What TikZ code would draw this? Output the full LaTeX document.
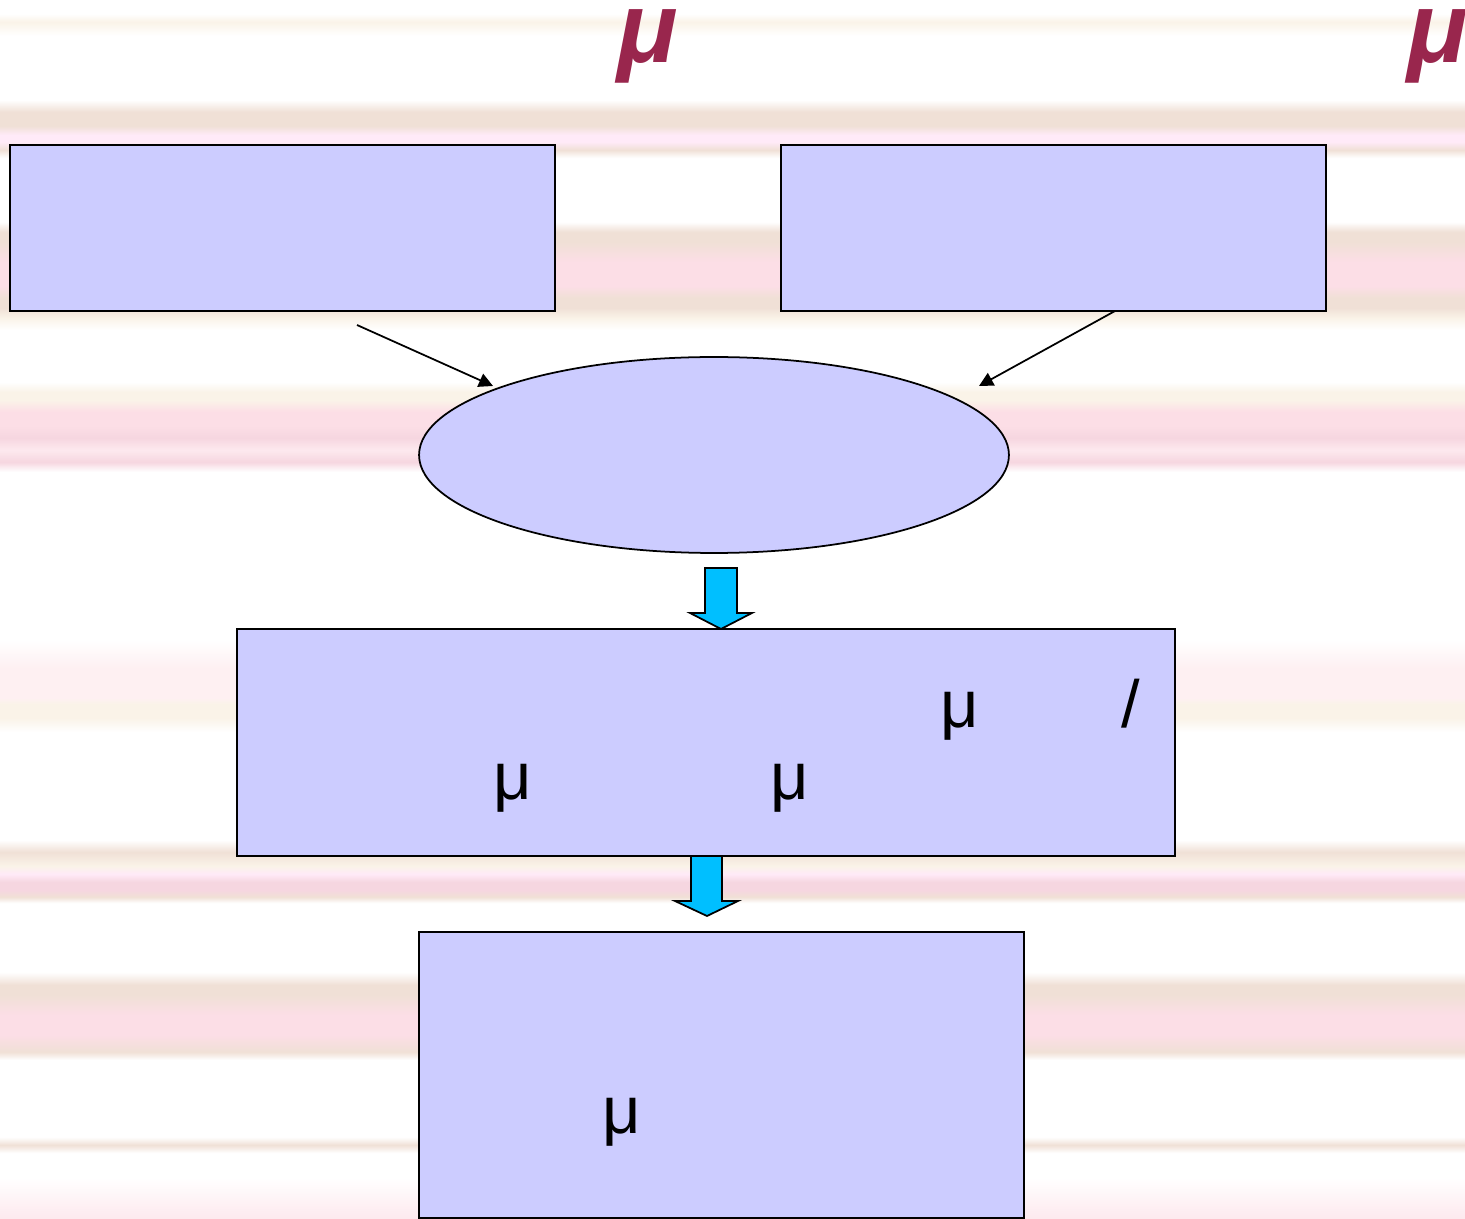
\documentclass[tikz,border=0pt]{standalone}
\usepackage{fontspec}
\setmainfont{Liberation Sans}
\usetikzlibrary{shapes.geometric,arrows.meta}
\definecolor{boxfill}{RGB}{204,204,255}
\definecolor{titlered}{RGB}{153,38,77}
\definecolor{flowblue}{RGB}{0,191,255}
% stripe colours of the backdrop
\definecolor{sWhite}{RGB}{255,255,255}
\definecolor{sTan}{RGB}{240,224,214}
\definecolor{sPink}{RGB}{252,222,230}
\definecolor{sPinkL}{RGB}{254,240,242}
\definecolor{sPinkM}{RGB}{253,233,238}
\definecolor{sLav}{RGB}{255,234,248}
\definecolor{sCream}{RGB}{250,243,232}
\definecolor{sRose}{RGB}{246,214,224}
% striped backdrop, bottom (25bp) to top (75bp)
\pgfdeclareverticalshading{stripes}{100bp}{%
  color(0bp)=(sPinkM); color(25bp)=(sPinkM);
  color(26.682bp)=(sWhite); color(27.707bp)=(sWhite);
  color(28.035bp)=(sTan); color(28.363bp)=(sWhite);
  color(31.522bp)=(sWhite); color(31.850bp)=(sTan);
  color(32.547bp)=(sPink); color(33.367bp)=(sPink);
  color(34.188bp)=(sTan); color(34.598bp)=(sTan);
  color(35.131bp)=(sWhite); color(37.961bp)=(sWhite);
  color(38.207bp)=(sTan); color(38.495bp)=(sRose);
  color(38.823bp)=(sRose); color(39.151bp)=(sLav);
  color(39.479bp)=(sCream); color(40.053bp)=(sTan);
  color(40.545bp)=(sWhite); color(44.975bp)=(sWhite);
  color(45.550bp)=(sCream); color(46.124bp)=(sCream);
  color(46.370bp)=(sPinkL); color(47.600bp)=(sPinkL);
  color(48.749bp)=(sWhite); color(55.640bp)=(sWhite);
  color(56.050bp)=(sRose); color(56.542bp)=(sPinkM);
  color(57.034bp)=(sRose); color(57.527bp)=(sPink);
  color(58.101bp)=(sPink); color(58.593bp)=(sCream);
  color(58.921bp)=(sCream); color(59.331bp)=(sWhite);
  color(61.464bp)=(sWhite); color(61.956bp)=(sCream);
  color(62.367bp)=(sTan); color(62.777bp)=(sTan);
  color(63.269bp)=(sPink); color(64.253bp)=(sPink);
  color(65.074bp)=(sTan); color(65.484bp)=(sTan);
  color(65.894bp)=(sWhite); color(68.519bp)=(sWhite);
  color(68.847bp)=(sTan); color(69.175bp)=(sLav);
  color(69.462bp)=(sLav); color(69.832bp)=(sTan);
  color(70.406bp)=(sTan); color(70.898bp)=(sWhite);
  color(73.523bp)=(sWhite); color(74.098bp)=(sCream);
  color(74.426bp)=(sWhite); color(75bp)=(sWhite); color(100bp)=(sWhite)}
\tikzset{
  box/.style={draw=black, fill=boxfill, line width=1pt, rectangle, inner sep=0pt, outer sep=0pt},
  oval/.style={draw=black, fill=boxfill, line width=1pt, ellipse, inner sep=0pt, outer sep=0pt},
  thinarrow/.style={draw=black, line width=1pt, -{Triangle[length=8pt,width=8pt]}},
  blockarrow/.style={draw=black, fill=flowblue, line width=1pt},
  bodytext/.style={anchor=base, inner sep=0pt, font=\fontsize{38}{44}\selectfont},
  titletext/.style={anchor=base, inner sep=0pt, text=titlered, font=\fontsize{57}{64}\selectfont\bfseries\itshape},
}
\begin{document}
\begin{tikzpicture}[x=0.02cm, y=-0.02cm]
  \useasboundingbox (0,0) rectangle (1465,1219);
  \clip (0,0) rectangle (1465,1219);
  \shade[shading=stripes] (0,0) rectangle (1465,1219);

  % headings
  \node[titletext] (t1) at (648,63) {μ};
  \node[titletext] (t2) at (1438,63) {μ};

  % boxes
  \node[box, minimum width=10.9cm, minimum height=3.32cm] (b1) at (282.5,228) {};
  \node[box, minimum width=10.9cm, minimum height=3.32cm] (b2) at (1053.5,228) {};
  \node[oval, minimum width=11.8cm, minimum height=3.92cm] (e) at (714,455) {};
  \node[box, minimum width=18.76cm, minimum height=4.54cm] (b3) at (706,742.5) {};
  \node[box, minimum width=12.1cm, minimum height=5.72cm] (b4) at (721.5,1075) {};

  % thin connectors into the oval
  \coordinate (s1) at (357,325);
  \coordinate (e1) at (493,386);
  \coordinate (s2) at (1115,311);
  \coordinate (e2) at (979,386);
  \draw[thinarrow] (s1) -- (e1);
  \draw[thinarrow] (s2) -- (e2);

  % block arrows
  \draw[blockarrow] (705,568) -- (737,568) -- (737,613) -- (752,613) -- (721,629)
    -- (690,613) -- (705,613) -- cycle;
  \draw[blockarrow] (691,856) -- (722,856) -- (722,901) -- (738,901) -- (707,916)
    -- (675,901) -- (691,901) -- cycle;

  % texts in the boxes
  \node[bodytext] (m1) at (960,728) {μ};
  \node[bodytext] (sl) at (1131,728) {/};
  \node[bodytext] (m2) at (513,800) {μ};
  \node[bodytext] (m3) at (789.5,800) {μ};
  \node[bodytext] (m4) at (621.5,1133) {μ};
\end{tikzpicture}
\end{document}
